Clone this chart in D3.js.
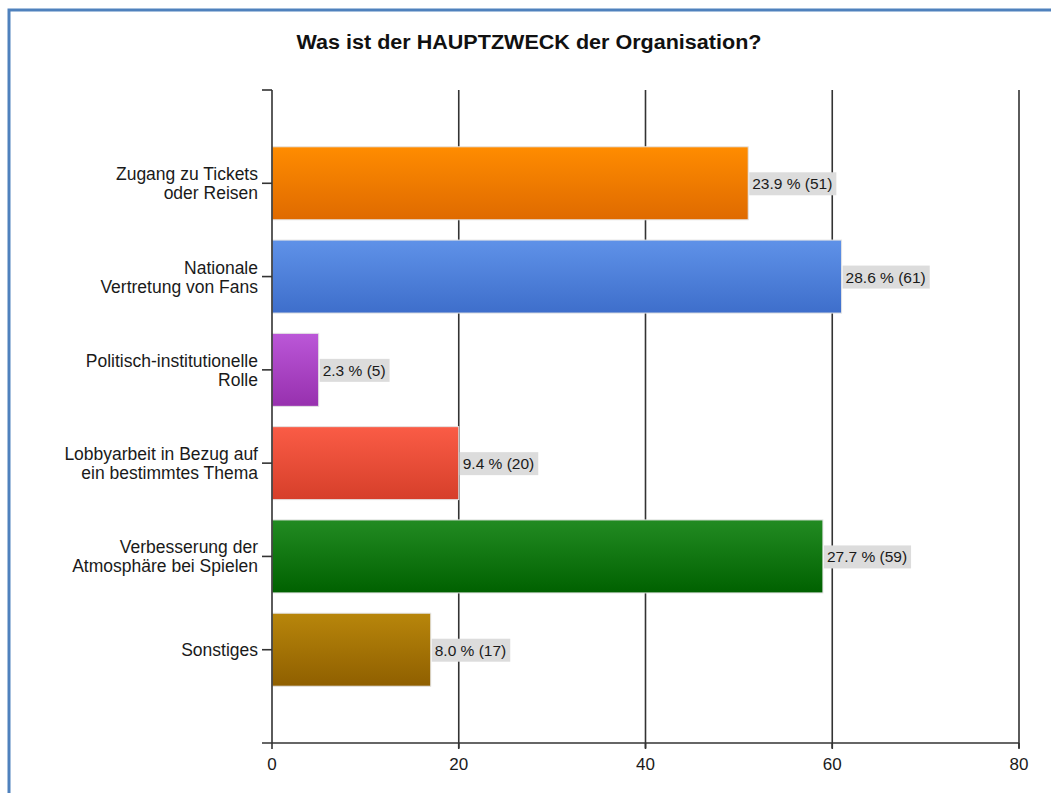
<!DOCTYPE html>
<html>
<head>
<meta charset="utf-8">
<script src="https://cdn.jsdelivr.net/npm/d3@7"></script>
<style>
  html, body { margin: 0; padding: 0; background: #fff; }
  svg { display: block; }
  text { font-family: "Liberation Sans", Arial, sans-serif; }
</style>
</head>
<body>
<svg id="chart" width="1051" height="793"></svg>
<script>
const title = "Was ist der HAUPTZWECK der Organisation?";
const categories = [
  ["Zugang zu Tickets", "oder Reisen"],
  ["Nationale", "Vertretung von Fans"],
  ["Politisch-institutionelle", "Rolle"],
  ["Lobbyarbeit in Bezug auf", "ein bestimmtes Thema"],
  ["Verbesserung der", "Atmosphäre bei Spielen"],
  ["Sonstiges"]
];
const counts = [51, 61, 5, 20, 59, 17];
const percents = [23.9, 28.6, 2.3, 9.4, 27.7, 8.0];
const xTicks = [0, 20, 40, 60, 80];
const colorsTop = ["#ff8c00", "#5f92e8", "#bb57d8", "#fa5c46", "#228b22", "#b8860b"];
const colorsBottom = ["#df6a00", "#3e6ecb", "#9730ae", "#d63f2a", "#006100", "#8f5f00"];

const svg = d3.select("#chart");
const W = 1051, H = 793;

// frame border
svg.append("rect").attr("x", 9).attr("y", 10).attr("width", W + 10).attr("height", H + 10)
  .attr("fill", "none").attr("stroke", "#4f81bd").attr("stroke-width", 3);

svg.append("text").attr("x", 529).attr("y", 49).attr("text-anchor", "middle")
  .attr("font-size", 19.5).attr("font-weight", "bold").attr("fill", "#111")
  .attr("textLength", 465).attr("lengthAdjust", "spacingAndGlyphs")
  .text(title);

const pLeft = 272, pRight = 1019, pTop = 90, pBottom = 743;
const x = d3.scaleLinear().domain([0, 80]).range([pLeft, pRight]);
const idx = categories.map((d, i) => i);
const y = d3.scalePoint().domain(idx).range([pTop, pBottom]).padding(1);
const barH = 73;

const defs = svg.append("defs");
idx.forEach(i => {
  const g = defs.append("linearGradient").attr("id", "g" + i)
    .attr("x1", 0).attr("y1", 0).attr("x2", 0).attr("y2", 1);
  g.append("stop").attr("offset", "0%").attr("stop-color", colorsTop[i]);
  g.append("stop").attr("offset", "100%").attr("stop-color", colorsBottom[i]);
});

// gridlines
svg.append("g").selectAll("line").data(xTicks.filter(t => t > 0)).join("line")
  .attr("x1", d => x(d)).attr("x2", d => x(d)).attr("y1", pTop).attr("y2", pBottom + 5)
  .attr("stroke", "#333").attr("stroke-width", 1.6);

// bars
svg.append("g").selectAll("rect").data(idx).join("rect")
  .attr("x", x(0)).attr("y", i => y(i) - barH / 2)
  .attr("width", i => x(counts[i]) - x(0)).attr("height", barH)
  .attr("fill", i => `url(#g${i})`).attr("stroke", "#e4e4e4").attr("stroke-width", 1);

// value labels
const lab = svg.append("g").selectAll("g").data(idx).join("g")
  .attr("transform", i => `translate(${x(counts[i]) + 1},${y(i)})`);
lab.append("rect").attr("x", 0).attr("y", -11).attr("height", 23).attr("fill", "#dcdcdc");
lab.append("text").attr("x", 3).attr("y", 6).attr("font-size", 15.5).attr("fill", "#1a1a1a")
  .text(i => `${percents[i].toFixed(1)} % (${counts[i]})`);
lab.each(function() {
  const t = d3.select(this).select("text").node().getComputedTextLength();
  d3.select(this).select("rect").attr("width", t + 7);
});

// y axis
svg.append("line").attr("x1", pLeft).attr("x2", pLeft).attr("y1", pTop).attr("y2", pBottom)
  .attr("stroke", "#333").attr("stroke-width", 1.6);
svg.append("line").attr("x1", pLeft - 10).attr("x2", pLeft).attr("y1", pTop).attr("y2", pTop)
  .attr("stroke", "#333").attr("stroke-width", 1.6);
svg.append("g").selectAll("line").data(idx).join("line")
  .attr("x1", pLeft - 10).attr("x2", pLeft).attr("y1", i => y(i)).attr("y2", i => y(i))
  .attr("stroke", "#333").attr("stroke-width", 1.6);
const cl = svg.append("g").selectAll("text").data(idx).join("text")
  .attr("text-anchor", "end").attr("font-size", 17.5).attr("fill", "#1a1a1a")
  .attr("x", pLeft - 14)
  .attr("y", i => categories[i].length > 1 ? y(i) - 3 : y(i) + 6);
cl.selectAll("tspan").data(i => categories[i]).join("tspan")
  .attr("x", pLeft - 14).attr("dy", (d, j) => j === 0 ? 0 : 19).text(d => d);

// x axis
svg.append("line").attr("x1", pLeft - 10).attr("x2", pRight).attr("y1", pBottom).attr("y2", pBottom)
  .attr("stroke", "#333").attr("stroke-width", 1.6);
svg.append("g").selectAll("line").data(xTicks).join("line")
  .attr("x1", d => x(d)).attr("x2", d => x(d)).attr("y1", pBottom).attr("y2", pBottom + 6)
  .attr("stroke", "#333").attr("stroke-width", 1.6);
svg.append("g").selectAll("text").data(xTicks).join("text")
  .attr("x", d => x(d)).attr("y", 770).attr("text-anchor", "middle")
  .attr("font-size", 17).attr("fill", "#1a1a1a").text(d => d);
</script>
</body>
</html>
